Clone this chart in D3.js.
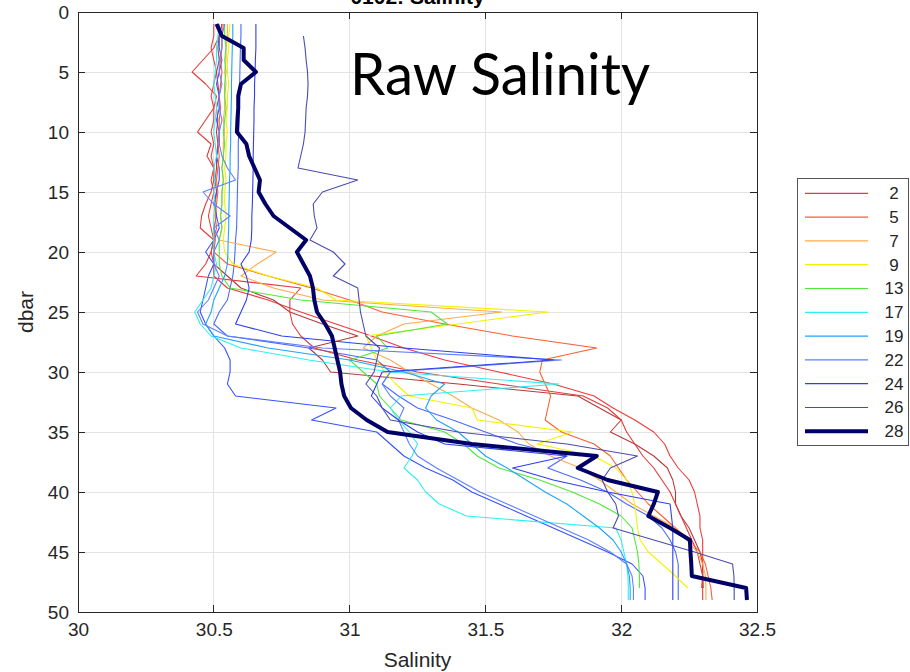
<!DOCTYPE html>
<html><head><meta charset="utf-8">
<script src="https://cdn.jsdelivr.net/npm/d3@7"></script>
<style>body{margin:0;background:#fff}svg{display:block}</style>
</head><body><svg id="c" width="910" height="672"></svg>
<script>
// ---------- data ----------
const depth = [1,2,3,4,5,6,7,8,9,10,11,12,13,14,15,16,17,18,19,20,21,22,23,24,25,26,27,28,29,30,31,32,33,34,35,36,37,38,39,40,41,42,43,44,45,46,47,48,49];
const xTicks = [30,30.5,31,31.5,32,32.5];
const xTickLabels = ["30","30.5","31","31.5","32","32.5"];
const yTicks = [0,5,10,15,20,25,30,35,40,45,50];
const yTickLabels = ["0","5","10","15","20","25","30","35","40","45","50"];
const legendLabels = ["2","5","7","9","13","17","19","22","24","26","28"];
const legendColors = ["#e23b3b","#ff5d33","#ffaa4c","#f2f200","#4fe83a","#2ef0f0","#1fa3ff","#5f80ff","#2e3ff0","#4b4bae","#000066"];

const s02 = [30.53,30.52,30.50,30.46,30.42,30.47,30.51,30.50,30.47,30.44,30.49,30.475,30.50,30.50,30.49,30.47,30.455,30.45,30.50,30.49,30.47,30.435,30.82,30.78,30.78,30.79,30.82,30.87,31.03,31.25,31.55,31.86,31.95,32.0,32.02,32.05,32.08,32.12,32.15,32.18,32.20,32.22,32.24,32.26,32.28,32.29,32.30,32.30,32.30];
const s05 = [30.535,30.53,30.53,30.525,30.53,30.525,30.52,30.525,30.52,30.52,30.515,30.52,30.515,30.51,30.515,30.51,30.505,30.51,30.50,30.50,30.55,30.70,30.86,31.0,31.12,31.35,31.60,31.91,31.71,31.70,31.72,31.74,31.73,31.72,31.78,31.90,31.96,31.99,32.02,32.06,32.10,32.15,32.20,32.25,32.29,32.31,32.32,32.33,32.335];
const s07 = [30.55,30.55,30.545,30.545,30.54,30.545,30.54,30.54,30.535,30.54,30.535,30.535,30.53,30.535,30.53,30.53,30.525,30.53,30.52,30.73,30.66,30.60,30.72,30.90,31.56,31.20,31.10,31.05,31.15,31.22,31.30,31.38,31.45,31.55,31.62,31.66,31.74,31.85,31.92,31.98,32.04,32.12,32.20,32.24,32.28,32.30,32.31,32.312,32.312];
const s09 = [30.56,30.555,30.555,30.55,30.55,30.555,30.55,30.55,30.545,30.55,30.545,30.545,30.54,30.545,30.54,30.54,30.545,30.54,30.535,30.54,30.57,30.70,30.88,30.95,31.73,31.40,31.06,31.08,31.10,31.13,31.17,31.22,31.45,31.47,31.82,31.69,31.90,31.98,32.02,32.04,32.05,32.055,32.06,32.07,32.10,32.15,32.20,32.245,null];
const s13 = [30.54,30.54,30.545,30.54,30.545,30.54,30.54,30.545,30.54,30.535,30.54,30.535,30.53,30.535,30.53,30.53,30.525,30.53,30.52,30.52,30.52,30.53,30.56,30.82,31.30,31.36,31.10,31.14,31.00,31.05,31.10,31.11,31.15,31.19,31.35,31.42,31.47,31.55,31.70,31.82,31.92,32.0,32.04,32.05,32.06,32.065,32.067,32.067,null];
const s17 = [30.52,30.515,30.51,30.51,30.505,30.50,30.505,30.51,30.505,30.50,30.505,30.51,30.50,30.505,30.50,30.505,30.50,30.50,30.50,30.50,30.51,30.50,30.49,30.46,30.43,30.45,30.49,30.60,30.85,31.15,31.77,31.19,31.15,31.18,31.22,31.25,31.23,31.20,31.25,31.28,31.33,31.43,31.98,32.0,32.01,32.02,32.025,32.026,32.026];
const s19 = [30.57,30.57,30.568,30.567,30.566,30.565,30.565,30.564,30.563,30.562,30.562,30.56,30.56,30.558,30.557,30.556,30.555,30.555,30.553,30.552,30.55,30.54,30.52,30.50,30.49,30.47,30.50,30.70,31.00,31.20,31.35,31.30,31.28,31.32,31.40,31.45,31.50,31.58,31.65,31.72,31.80,31.86,31.92,31.97,32.00,32.02,32.03,32.033,32.033];
const s22 = [30.54,30.53,30.53,30.52,30.52,30.53,30.52,30.52,30.53,30.52,30.52,30.53,30.55,30.58,30.46,30.50,30.56,30.50,30.52,30.50,30.50,30.52,30.50,30.48,30.44,30.46,30.55,30.90,31.78,31.15,31.12,31.15,31.20,31.18,31.20,31.22,31.25,31.32,31.40,31.48,31.58,31.68,31.78,31.88,31.96,32.02,32.04,32.045,32.045];
const s24 = [30.655,30.655,30.655,30.653,30.652,30.65,30.65,30.648,30.648,30.647,30.646,30.645,30.645,30.644,30.643,30.642,30.64,30.64,30.638,30.63,30.60,30.62,30.63,30.62,30.60,30.58,30.75,31.20,31.75,31.12,31.10,31.08,31.12,31.18,31.25,31.35,31.80,31.60,31.75,31.95,32.18,32.185,32.19,32.19,32.19,32.19,32.19,32.19,32.19];
const s26 = [null,30.83,30.836,30.84,30.845,30.847,30.845,30.84,30.838,30.836,30.83,30.82,30.81,31.03,30.90,30.866,30.87,30.88,30.854,30.94,30.983,30.94,31.03,31.035,31.04,31.05,31.06,31.11,31.10,31.09,31.06,31.10,31.12,31.15,31.40,31.80,32.06,31.96,31.93,31.95,31.98,31.99,31.97,32.12,32.27,32.41,32.415,32.416,32.416];
const s28 = [30.51,30.53,30.61,30.61,30.655,30.60,30.59,30.59,30.587,30.585,30.62,30.63,30.65,30.67,30.665,30.69,30.72,30.78,30.84,30.806,30.83,30.854,30.865,30.87,30.88,30.91,30.935,30.945,30.955,30.965,30.97,30.98,31.005,31.063,31.14,31.45,31.91,31.84,31.95,32.135,32.12,32.10,32.18,32.253,32.255,32.258,32.26,32.46,32.463];
// profiles drawn without a legend entry
const extraA = [30.50,30.50,30.49,30.50,30.51,30.50,30.49,30.50,30.50,30.49,30.50,30.49,30.50,30.49,30.50,30.49,30.48,30.49,30.50,30.49,30.50,30.50,30.55,30.70,30.82,30.95,31.08,31.20,31.35,31.55,31.75,31.90,31.97,32.05,32.12,32.16,32.18,32.21,32.25,32.27,32.28,32.29,32.29,32.30,32.30,32.30,32.30,32.296,null];
const extraB = [30.52,30.52,30.515,30.52,30.51,30.515,30.52,30.51,30.515,30.51,30.515,30.51,30.51,30.505,30.51,30.505,30.51,30.50,30.505,30.50,30.50,30.55,30.60,30.72,30.78,30.90,31.03,30.85,30.90,30.93,31.40,31.84,31.92,32.0,31.96,32.05,32.12,32.17,32.19,32.20,32.20,32.22,32.25,32.27,32.29,32.30,32.30,32.302,null];
const extraC = [30.53,30.52,30.52,30.53,30.52,30.51,30.52,30.52,30.51,30.52,30.52,30.51,30.52,30.52,30.51,30.50,30.51,30.52,30.50,30.47,30.50,30.48,30.47,30.46,30.45,30.47,30.50,30.54,30.56,30.56,30.55,30.58,30.95,30.86,31.10,31.15,31.20,31.28,31.38,31.45,31.55,31.65,31.75,31.85,31.95,32.04,32.08,32.088,32.088];
const extraD = [30.60,30.60,30.598,30.597,30.596,30.595,30.595,30.594,30.593,30.592,30.59,30.59,30.59,30.588,30.587,30.586,30.585,30.584,30.58,30.578,30.575,30.57,30.56,30.55,30.52,30.50,30.55,30.85,31.10,31.15,31.12,31.18,31.25,31.38,31.50,31.62,31.80,31.73,31.85,31.95,32.02,32.10,32.15,32.18,32.20,32.21,32.21,32.21,32.21];
const extraColors = ["#f03a3a","#b83a3a","#3552ff","#4a6aff"];

// ---------- chart ----------
const svg = d3.select("#c");
const L = 78, R = 757, T = 12, B = 612;
const x = d3.scaleLinear().domain([30, 32.5]).range([L, R]);
const y = d3.scaleLinear().domain([0, 50]).range([T, B]);
const font = "'Liberation Sans', Arial, Helvetica, sans-serif";
const axisColor = "#262626";

svg.append("rect").attr("x",L).attr("y",T).attr("width",R-L).attr("height",B-T).attr("fill","#fff");

// grid
const grid = svg.append("g").attr("stroke","#e3e3e3").attr("stroke-width",1).attr("shape-rendering","crispEdges");
xTicks.forEach(v => grid.append("line").attr("x1",x(v)).attr("x2",x(v)).attr("y1",T).attr("y2",B));
yTicks.forEach(v => grid.append("line").attr("y1",y(v)).attr("y2",y(v)).attr("x1",L).attr("x2",R));

// profiles
const clipId = "plotclip";
svg.append("clipPath").attr("id",clipId).append("rect").attr("x",L).attr("y",T).attr("width",R-L).attr("height",B-T);
const gLines = svg.append("g").attr("clip-path",`url(#${clipId})`);
const line = d3.line().defined(d => d[1] != null).x(d => x(d[1])).y(d => y(d[0]));
const toPts = arr => depth.map((d,i) => [d, arr[i]]);

const extras = [extraA, extraB, extraC, extraD];
extras.forEach((arr,i) => {
  gLines.append("path").attr("d", line(toPts(arr))).attr("fill","none")
    .attr("stroke", extraColors[i]).attr("stroke-width",1.1).attr("stroke-linejoin","round");
});
const legendSeries = [s02,s05,s07,s09,s13,s17,s19,s22,s24,s26,s28];
legendSeries.forEach((arr,i) => {
  const thick = i === legendSeries.length - 1;
  gLines.append("path").attr("d", line(toPts(arr))).attr("fill","none")
    .attr("stroke", legendColors[i]).attr("stroke-width", thick ? 4 : 1.1).attr("stroke-linejoin","round");
});

// box + ticks
svg.append("rect").attr("x",L).attr("y",T).attr("width",R-L).attr("height",B-T)
  .attr("fill","none").attr("stroke",axisColor).attr("stroke-width",1).attr("shape-rendering","crispEdges");
const tk = svg.append("g").attr("stroke",axisColor).attr("stroke-width",1).attr("shape-rendering","crispEdges");
const tlen = 7;
xTicks.forEach(v => {
  tk.append("line").attr("x1",x(v)).attr("x2",x(v)).attr("y1",B).attr("y2",B-tlen);
  tk.append("line").attr("x1",x(v)).attr("x2",x(v)).attr("y1",T).attr("y2",T+tlen);
});
yTicks.forEach(v => {
  tk.append("line").attr("y1",y(v)).attr("y2",y(v)).attr("x1",L).attr("x2",L+tlen);
  tk.append("line").attr("y1",y(v)).attr("y2",y(v)).attr("x1",R).attr("x2",R-tlen);
});

// tick labels via d3 axes
const xAxis = d3.axisBottom(x).tickValues(xTicks).tickFormat((d,i) => xTickLabels[i]).tickSize(0).tickPadding(11);
const gx = svg.append("g").attr("transform",`translate(0,${B})`).call(xAxis);
gx.select(".domain").remove();
gx.selectAll("text").attr("font-family",font).attr("font-size",19).attr("fill",axisColor);

const yAxis = d3.axisLeft(y).tickValues(yTicks).tickFormat((d,i) => yTickLabels[i]).tickSize(0).tickPadding(9);
const gy = svg.append("g").attr("transform",`translate(${L},0)`).call(yAxis);
gy.select(".domain").remove();
gy.selectAll("text").attr("font-family",font).attr("font-size",19).attr("fill",axisColor);

// axis titles
svg.append("text").attr("x",(L+R)/2).attr("y",667).attr("text-anchor","middle")
  .attr("font-family",font).attr("font-size",21).attr("fill",axisColor).text("Salinity");
svg.append("text").attr("transform",`translate(33,${(T+B)/2}) rotate(-90)`).attr("text-anchor","middle")
  .attr("font-family",font).attr("font-size",21).attr("fill",axisColor).text("dbar");

// title (mostly cut off at top)
svg.append("text").attr("x",(L+R)/2).attr("y",4).attr("text-anchor","middle")
  .attr("font-family",font).attr("font-weight","bold").attr("font-size",21).attr("fill","#000").text("0102: Salinity");

// annotation
svg.append("text").attr("x",350).attr("y",95).attr("font-family","Lato, 'Open Sans', sans-serif")
  .attr("font-size",58).attr("fill","#000").attr("textLength",300).attr("lengthAdjust","spacingAndGlyphs").text("Raw Salinity");

// legend
const lg = svg.append("g");
lg.append("rect").attr("x",797.5).attr("y",178.5).attr("width",111).attr("height",267)
  .attr("fill","#fff").attr("stroke","#555").attr("stroke-width",1);
legendLabels.forEach((lab,i) => {
  const yy = 193.3 + i*23.8;
  const thick = i === legendLabels.length - 1;
  lg.append("line").attr("x1",805).attr("x2",868).attr("y1",yy).attr("y2",yy)
    .attr("stroke",legendColors[i]).attr("stroke-width", thick ? 4 : 1.2);
  lg.append("text").attr("x",894).attr("y",yy).attr("dy","0.35em").attr("text-anchor","middle")
    .attr("font-family",font).attr("font-size",17).attr("fill",axisColor).text(lab);
});
</script></body></html>
